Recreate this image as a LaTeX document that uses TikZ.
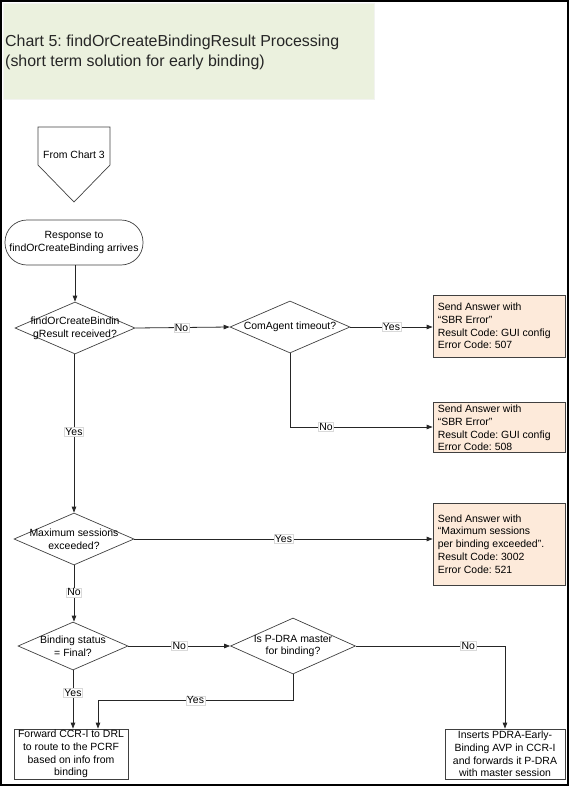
\documentclass[tikz,border=0pt]{standalone}
\usepackage{fontspec}
\setmainfont{Liberation Sans}
\usetikzlibrary{shapes.geometric,arrows.meta,calc}
\definecolor{titlegreen}{HTML}{EBF1DE}
\definecolor{peach}{HTML}{FDEADA}
\definecolor{edgec}{HTML}{404040}
\tikzset{
  txt/.style={font=\fontsize{10.5}{12.8}\selectfont, inner sep=0, align=center},
  dia/.style={draw=edgec, line width=0.7bp, shape=diamond, inner sep=0},
  abox/.style={draw=edgec, fill=peach, line width=0.8bp, inner sep=0},
  pbox/.style={draw=edgec, line width=0.8bp, inner sep=0},
  conn/.style={draw=black!85, line width=0.8bp, -{Triangle[length=6bp,width=4.5bp]}},
  plain/.style={draw=black!85, line width=0.8bp},
  lbl/.style={fill=white, draw=black!15, line width=0.4bp, inner sep=1bp, font=\fontsize{10.5}{12}\selectfont}
}
\frenchspacing
\begin{document}
\begin{tikzpicture}[x=1bp,y=-1bp]
\useasboundingbox (0,0) rectangle (569,786);
% frame
\draw[line width=1.5bp] (1,1) rectangle (568,785);
% title
\node[fill=titlegreen, draw=titlegreen!80!black!20, minimum width=371bp, minimum height=96bp, inner sep=0, anchor=north west] (title) at (3,3) {};
\node[anchor=west, align=left, inner sep=0, font=\fontsize{16}{20}\selectfont, text=black!85] (titlet) at (5,52) {Chart 5: findOrCreateBindingResult Processing\\(short term solution for early binding)};
% off-page connector
\draw[edgec, line width=0.7bp] (38,127) coordinate (fcA) -- (110,127) -- (110,165) -- (74,202) -- (38,165) -- cycle;
\node[txt] (fc3) at (74,155) {From Chart 3};
% terminator
\node[draw=edgec, line width=0.7bp, rounded corners=22bp, minimum width=138bp, minimum height=45bp, inner sep=0] (term) at (74,242.5) {};
\node[txt] (termt) at (term) {Response to\\findOrCreateBinding arrives};
% diamonds
\node[dia, minimum width=120bp, minimum height=52bp] (d1) at (75,328) {};
\node[txt] (d1t) at (d1) {findOrCreateBindin\\gResult received?};
\node[dia, minimum width=120bp, minimum height=52bp] (d2) at (290,327) {};
\node[txt] (d2t) at (d2) {ComAgent timeout?};
\node[dia, minimum width=120bp, minimum height=52bp] (d3) at (74,539) {};
\node[txt] (d3t) at (d3) {Maximum sessions\\exceeded?};
\node[dia, minimum width=110bp, minimum height=48bp] (d4) at (73,646) {};
\node[txt] (d4t) at (d4) {Binding status\\= Final?};
\node[dia, minimum width=125bp, minimum height=56bp] (d5) at (293,646) {};
\node[txt] (d5t) at (d5) {Is P-DRA master\\for binding?};
% answer boxes
\node[abox, minimum width=132bp, minimum height=62bp] (b1) at (499,326) {};
\node[txt, align=left, anchor=west] (b1t) at ([xshift=5bp]b1.west) {Send Answer with\\“SBR Error”\\Result Code: GUI config\\Error Code: 507};
\node[abox, minimum width=132bp, minimum height=50bp] (b2) at (499,427) {};
\node[txt, align=left, anchor=west] (b2t) at ([xshift=5bp,yshift=-1bp]b2.west) {Send Answer with\\“SBR Error”\\Result Code: GUI config\\Error Code: 508};
\node[abox, minimum width=132bp, minimum height=82bp] (b3) at (499,544) {};
\node[txt, align=left, anchor=west] (b3t) at ([xshift=5bp]b3.west) {Send Answer with\\“Maximum sessions\\per binding exceeded”.\\Result Code: 3002\\Error Code: 521};
\node[pbox, minimum width=114bp, minimum height=50bp] (b4) at (71,754) {};
\node[txt] (b4t) at (b4) {Forward CCR-I to DRL\\to route to the PCRF\\based on info from\\binding};
\node[pbox, minimum width=120bp, minimum height=50bp] (b5) at (505,754) {};
\node[txt] (b5t) at (b5) {Inserts PDRA-Early-\\Binding AVP in CCR-I\\and forwards it P-DRA\\with master session};
% connectors
\draw[conn] (term.south -| d1.north) -- (d1.north);
\draw[conn] (d1.east) -- node[lbl, pos=0.49]{No} (d2.west);
\draw[conn] (d2.east) -- node[lbl]{Yes} (d2.east -| b1.west);
\draw[conn] (d2.south) |- node[lbl, pos=0.626]{No} (b2.west);
\draw[conn] (d1.south -| d3.north) -- node[lbl, pos=0.49]{Yes} (d3.north);
\draw[conn] (d3.east) -- node[lbl]{Yes} (d3.east -| b3.west);
\draw[conn] (d3.south) -- node[lbl, pos=0.48]{No} (d3.south |- d4.north);
\draw[conn] (d4.east) -- node[lbl, pos=0.5]{No} (d5.west);
\draw[conn] (d4.south) -- node[lbl, pos=0.38]{Yes} (d4.south |- b4.north);
\draw[conn] (d5.south) -- ++(0,26) -| node[lbl, pos=0.25]{Yes} ([xshift=27bp]b4.north);
\draw[conn] (d5.east) -| node[lbl, pos=0.377]{No} (b5.north);
\end{tikzpicture}
\end{document}
